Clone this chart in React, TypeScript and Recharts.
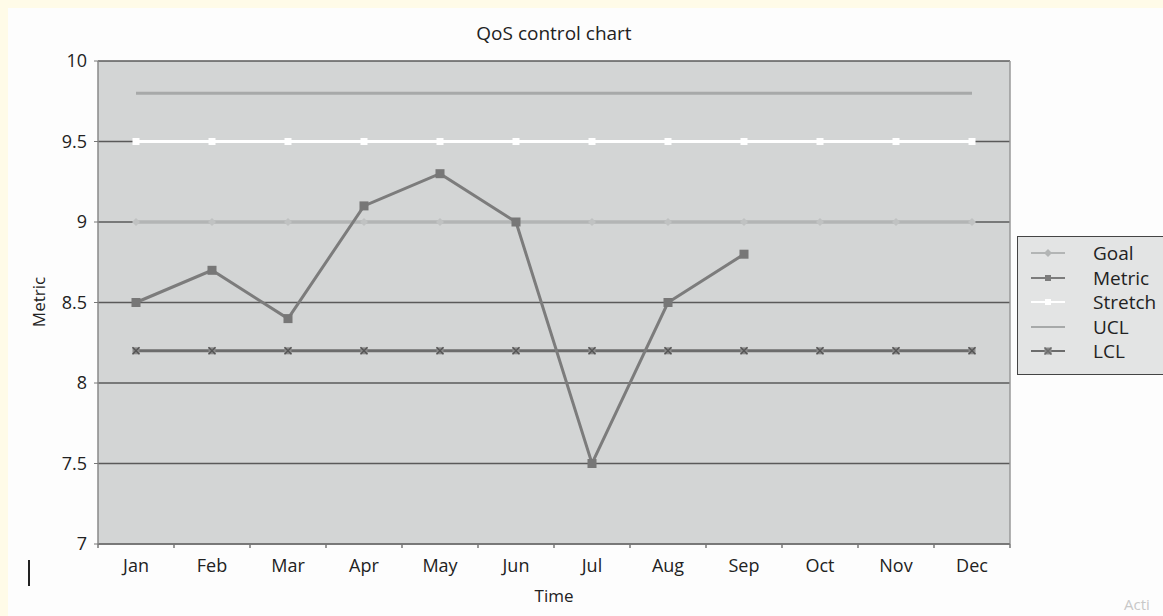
import React from "react";
import { LineChart, Line, XAxis, YAxis, CartesianGrid } from "recharts";

const months = ["Jan", "Feb", "Mar", "Apr", "May", "Jun", "Jul", "Aug", "Sep", "Oct", "Nov", "Dec"];
const goal = [9, 9, 9, 9, 9, 9, 9, 9, 9, 9, 9, 9];
const metric = [8.5, 8.7, 8.4, 9.1, 9.3, 9.0, 7.5, 8.5, 8.8, null, null, null];
const stretch = [9.5, 9.5, 9.5, 9.5, 9.5, 9.5, 9.5, 9.5, 9.5, 9.5, 9.5, 9.5];
const ucl = [9.8, 9.8, 9.8, 9.8, 9.8, 9.8, 9.8, 9.8, 9.8, 9.8, 9.8, 9.8];
const lcl = [8.2, 8.2, 8.2, 8.2, 8.2, 8.2, 8.2, 8.2, 8.2, 8.2, 8.2, 8.2];
const yTicks = [7, 7.5, 8, 8.5, 9, 9.5, 10];

const data = months.map((m, i) => ({
  month: m,
  goal: goal[i],
  metric: metric[i],
  stretch: stretch[i],
  ucl: ucl[i],
  lcl: lcl[i],
}));

const FONT = "'Open Sans', 'Noto Sans', sans-serif";
const HALF_BAND = 38; // half of one month's slot, for tick marks between months

const C = {
  goal: "#b3b5b5",
  metric: "#7c7c7c",
  stretch: "#ffffff",
  ucl: "#a7a9a9",
  lcl: "#6c6c6c",
};

function Diamond(props: any) {
  const { cx, cy, fill } = props;
  if (cx == null || cy == null) return null;
  return <path d={`M${cx},${cy - 4}L${cx + 4},${cy}L${cx},${cy + 4}L${cx - 4},${cy}Z`} fill={fill} />;
}

function Square(props: any) {
  const { cx, cy, fill, size = 8 } = props;
  if (cx == null || cy == null) return null;
  return <rect x={cx - size / 2} y={cy - size / 2} width={size} height={size} fill={fill} />;
}

function Cross(props: any) {
  const { cx, cy, stroke } = props;
  if (cx == null || cy == null) return null;
  return (
    <g stroke={stroke} strokeWidth={1.5}>
      <rect x={cx - 3.5} y={cy - 3.5} width={7} height={7} fill="#8a8a8a" stroke="none" />
      <line x1={cx - 3.5} y1={cy - 3.5} x2={cx + 3.5} y2={cy + 3.5} />
      <line x1={cx - 3.5} y1={cy + 3.5} x2={cx + 3.5} y2={cy - 3.5} />
    </g>
  );
}

// month label centred in its slot, tick marks on the slot boundaries
function MonthTick(props: any) {
  const { x, y, payload, index } = props;
  const axisY = y - 12;
  return (
    <g>
      <line x1={x - HALF_BAND} y1={axisY} x2={x - HALF_BAND} y2={axisY + 4} stroke="#777" strokeWidth={1.5} />
      {index === months.length - 1 && (
        <line x1={x + HALF_BAND} y1={axisY} x2={x + HALF_BAND} y2={axisY + 4} stroke="#777" strokeWidth={1.5} />
      )}
      <text x={x} y={axisY + 23} textAnchor="middle" dominantBaseline="middle" fill="#222" fontSize={18} fontFamily={FONT}>
        {payload.value}
      </text>
    </g>
  );
}

const legendItems = [
  { name: "Goal", color: C.goal, marker: "diamond" },
  { name: "Metric", color: C.metric, marker: "square" },
  { name: "Stretch", color: C.stretch, marker: "square" },
  { name: "UCL", color: C.ucl, marker: "none" },
  { name: "LCL", color: C.lcl, marker: "cross" },
];

function LegendBox() {
  return (
    <div
      style={{
        position: "absolute",
        left: 1017,
        top: 236,
        width: 160,
        height: 139,
        background: "#e3e4e4",
        border: "1.5px solid #444",
        boxSizing: "border-box",
        paddingTop: 4,
      }}
    >
      {legendItems.map((it) => (
        <div key={it.name} style={{ display: "flex", alignItems: "center", height: 24.5 }}>
          <svg width={40} height={12} style={{ marginLeft: 11 }}>
            <line x1={2} y1={6} x2={36} y2={6} stroke={it.color} strokeWidth={2} />
            {it.marker === "diamond" && <Diamond cx={19} cy={6} fill={it.color} />}
            {it.marker === "square" && <Square cx={19} cy={6} fill={it.color} size={6} />}
            {it.marker === "cross" && <Cross cx={19} cy={6} stroke={it.color} />}
          </svg>
          <span style={{ fontFamily: FONT, fontSize: 19, color: "#222", marginLeft: 24, lineHeight: "20px" }}>
            {it.name}
          </span>
        </div>
      ))}
    </div>
  );
}

export default function App() {
  return (
    <div
      style={{
        position: "absolute",
        left: 0,
        top: 0,
        width: 1163,
        height: 616,
        background: "#fffbe8",
        overflow: "hidden",
      }}
    >
      <div style={{ position: "absolute", left: 8, top: 8, width: 1155, height: 608, background: "#fdfdfd" }} />
      <div style={{ position: "absolute", left: 0, top: 0 }}>
        <LineChart
          width={1163}
          height={616}
          data={data}
          margin={{ top: 61, right: 153, bottom: 42, left: 38 }}
        >
          <CartesianGrid
            vertical={false}
            fill="#d3d5d5"
            stroke="#5a5a5a"
            strokeWidth={1.5}
          />
          <CartesianGrid horizontal={false} verticalPoints={[1010]} stroke="#999" strokeWidth={1.5} />
          <XAxis
            dataKey="month"
            height={30}
            padding={{ left: HALF_BAND, right: HALF_BAND }}
            tick={<MonthTick />}
            tickLine={false}
            axisLine={{ stroke: "#777", strokeWidth: 1.5 }}
            interval={0}
            tickSize={4}
            tickMargin={8}
          />
          <YAxis
            width={60}
            domain={[7, 10]}
            ticks={yTicks}
            type="number"
            tick={{ fill: "#222", fontSize: 18, fontFamily: FONT }}
            tickLine={{ stroke: "#777" }}
            axisLine={{ stroke: "#888", strokeWidth: 1.5 }}
            tickSize={4}
            tickMargin={7}
            allowDataOverflow
          />
          <Line
            dataKey="ucl"
            stroke={C.ucl}
            strokeWidth={3}
            dot={false}
            activeDot={false}
            isAnimationActive={false}
          />
          <Line
            dataKey="stretch"
            stroke={C.stretch}
            strokeWidth={3}
            dot={(p: any) => <Square key={p.index} cx={p.cx} cy={p.cy} fill="#ffffff" size={7} />}
            activeDot={false}
            isAnimationActive={false}
          />
          <Line
            dataKey="goal"
            stroke={C.goal}
            strokeWidth={3.5}
            dot={(p: any) => <Diamond key={p.index} cx={p.cx} cy={p.cy} fill="#c0c2c2" />}
            activeDot={false}
            isAnimationActive={false}
          />
          <Line
            dataKey="lcl"
            stroke={C.lcl}
            strokeWidth={3}
            dot={(p: any) => <Cross key={p.index} cx={p.cx} cy={p.cy} stroke="#555" />}
            activeDot={false}
            isAnimationActive={false}
          />
          <Line
            dataKey="metric"
            stroke={C.metric}
            strokeWidth={3}
            dot={(p: any) => <Square key={p.index} cx={p.cx} cy={p.cy} fill="#777" size={9} />}
            activeDot={false}
            isAnimationActive={false}
          />
        </LineChart>
      </div>
      <div
        style={{
          position: "absolute",
          left: 0,
          width: 1108,
          top: 20,
          textAlign: "center",
          fontFamily: FONT,
          fontSize: 19,
          lineHeight: "26px",
          color: "#222",
        }}
      >
        QoS control chart
      </div>
      <div
        style={{
          position: "absolute",
          left: 0,
          width: 1108,
          top: 584,
          textAlign: "center",
          fontFamily: FONT,
          fontSize: 17,
          lineHeight: "24px",
          color: "#222",
        }}
      >
        Time
      </div>
      <div
        style={{
          position: "absolute",
          left: 38,
          top: 302,
          transform: "translate(-50%, -50%) rotate(-90deg)",
          fontFamily: FONT,
          fontSize: 17,
          color: "#222",
          whiteSpace: "nowrap",
        }}
      >
        Metric
      </div>
      <LegendBox />
      <div style={{ position: "absolute", left: 28, top: 560, width: 1.5, height: 26, background: "#222" }} />
      <div
        style={{
          position: "absolute",
          left: 1124,
          top: 594,
          fontFamily: FONT,
          fontSize: 15,
          lineHeight: "20px",
          color: "#c8c8c8",
        }}
      >
        Acti
      </div>
    </div>
  );
}
